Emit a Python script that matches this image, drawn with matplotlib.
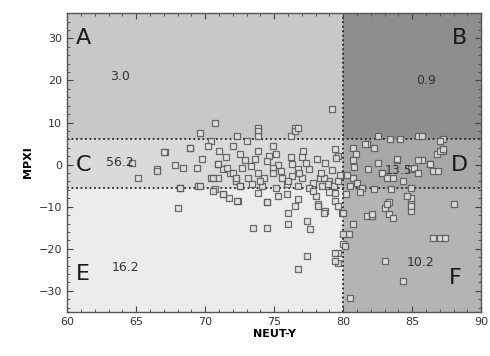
import matplotlib

matplotlib.use("Agg")
import matplotlib.pyplot as plt
from matplotlib.patches import Rectangle
from matplotlib.ticker import MultipleLocator

# quadrant bounds and shares (%)
x_split = 80.0
y_high = 6.2
y_low = -5.5
x_lim = (60, 90)
y_lim = (-35, 36)

region_labels = ["A", "B", "C", "D", "E", "F"]
region_shares = ["3.0", "0.9", "56.2", "13.5", "16.2", "10.2"]
region_colors = ["#c8c8c8", "#8e8e8e", "#dadada", "#a8a8a8", "#ececec", "#b4b4b4"]

# scatter points (NEUT-Y, MPXI)
neut_y = [
    79.2, 76.5, 76.2, 73.8, 82.5, 85.4, 87.2, 87.2, 86.8, 85.7,
    86.3, 83.9, 82.8, 69.6, 70.7, 70.4, 70.2, 68.9, 67.1, 69.8,
    69.4, 67.8, 68.4, 66.5, 65.1, 70.9, 71.3, 70.9, 70.4, 69.5,
    68.2, 70.7, 71.3, 68.0, 64.7, 73.8, 73.8, 76.5, 76.7, 72.0,
    73.0, 73.8, 72.9, 73.6, 74.6, 74.9, 75.1, 75.3, 74.9, 76.2,
    77.1, 77.0, 78.1, 76.3, 76.7, 77.5, 78.3, 72.7, 71.8, 72.2,
    73.1, 73.8, 74.3, 74.9, 75.6, 76.3, 77.0, 77.8, 72.5, 73.4,
    74.1, 75.1, 75.9, 76.7, 77.5, 78.5, 71.7, 72.4, 74.5, 75.9,
    76.7, 76.5, 78.0, 78.2, 75.3, 73.8, 72.3, 72.0, 72.2, 68.2,
    69.6, 70.6, 70.6, 71.3, 72.5, 73.5, 74.5, 76.0, 76.0, 77.4,
    77.6, 78.2, 78.7, 74.5, 77.4, 76.7, 79.6, 79.6, 80.0, 79.9,
    79.4, 80.0, 80.0, 80.7, 80.4, 80.1, 79.4, 79.4, 81.7, 82.1,
    83.0, 83.3, 83.3, 83.6, 84.9, 84.9, 84.9, 88.0, 86.5, 87.0,
    87.4, 83.0, 84.3, 80.5, 83.5, 84.9, 79.4, 79.6, 80.7, 80.9,
    80.7, 81.7, 82.2, 83.9, 84.9, 82.8, 83.2, 83.6, 80.7, 81.0,
    81.4, 82.2, 83.2, 84.6, 84.9, 82.1, 79.6, 78.6, 79.4, 79.0,
    78.6, 83.4, 84.1, 81.6, 85.1, 85.4, 86.3, 86.5, 87.0, 86.9,
    85.4, 84.3, 85.7, 87.0, 87.2, 78.9, 79.3, 79.6, 79.8, 79.2,
    78.7, 79.5, 78.4, 77.8, 79.0, 76.0, 75.5, 74.5, 73.3, 72.5,
    71.5, 71.0, 74.0, 76.8, 77.3, 80.3, 80.5, 80.2, 81.2, 81.8,
    82.5, 80.8, 67.0, 68.9, 66.5, 72.3, 71.6, 70.9,
]
mpxi = [
    13.3, 8.6, 6.9, 8.6, 6.9, 6.9, 6.2, 3.3, 2.6, 1.0,
    0.2, 1.0, -2.1, 7.4, 10.0, 5.7, 4.5, 4.0, 2.9, 1.4,
    -0.7, -0.2, -0.7, -1.0, -3.1, 0.2, -1.0, -3.1, -3.3, -5.0,
    -5.5, -5.7, -6.9, -10.2, 0.5, 8.1, 6.9, 8.1, 8.8, 4.5,
    5.7, 3.3, 1.0, 1.4, 2.1, 4.5, 2.6, -0.2, -0.7, 1.7,
    3.3, 1.7, 1.4, 0.2, -1.0, -1.0, -3.1, -0.7, -2.1, -3.8,
    -3.1, -1.9, -3.3, -2.1, -3.1, -2.6, -3.3, -4.3, -5.0, -4.5,
    -5.0, -5.5, -4.5, -5.0, -5.5, -5.0, -7.9, -8.6, -9.0, -6.9,
    -8.1, -9.8, -7.4, -9.3, -7.4, -6.7, -8.6, -2.1, -3.3, -5.5,
    -5.0, -3.1, -6.2, -6.9, -5.0, -15.0, -15.0, -14.0, -11.4, -13.3,
    -15.2, -9.8, -11.0, -9.0, -21.7, -24.8, -21.0, -23.3, -18.8, -11.4,
    -8.6, -16.4, -11.4, -14.0, -16.4, -19.3, -21.0, -22.9, -12.1, -12.1,
    -10.2, -9.0, -11.7, -12.6, -9.3, -7.9, -11.0, -9.3, -17.4, -17.4,
    -17.4, -22.9, -27.6, -31.7, -5.7, -5.5, 3.8, 2.1, 4.0, 2.6,
    1.0, 5.0, 4.0, 1.4, -1.0, -1.9, -3.1, -3.1, -3.1, -4.3,
    -5.5, -5.7, -9.3, -7.4, -9.8, -11.7, -9.8, -11.4, -6.7, -3.8,
    -3.3, 6.2, 6.2, 5.0, -0.7, 1.0, 0.2, -1.4, 3.3, -1.4,
    -2.1, -3.8, 6.9, 5.7, 3.8, -4.5, -5.2, -4.0, -2.5, -1.2,
    0.5, 1.5, -2.0, -6.2, -6.5, -3.8, -1.5, 0.8, -0.3, 2.5,
    1.8, 3.2, -4.0, -2.0, 0.3, -2.5, -5.0, -7.0, -6.5, -1.0,
    0.5, -0.5, 2.9, 4.0, -1.4, 6.9, -0.7, 0.2,
]


def main() -> None:
    fig = plt.figure(figsize=(4.9, 3.56), dpi=100)
    ax = fig.add_axes([0.137, 0.124, 0.845, 0.839])

    x0, x1 = x_lim
    y0, y1 = y_lim
    bounds = [
        (x0, y_high, x_split - x0, y1 - y_high),
        (x_split, y_high, x1 - x_split, y1 - y_high),
        (x0, y_low, x_split - x0, y_high - y_low),
        (x_split, y_low, x1 - x_split, y_high - y_low),
        (x0, y0, x_split - x0, y_low - y0),
        (x_split, y0, x1 - x_split, y_low - y0),
    ]
    for (bx, by, bw, bh), color in zip(bounds, region_colors):
        ax.add_patch(Rectangle((bx, by), bw, bh, facecolor=color, edgecolor="none", zorder=0))

    dots = (0, (1, 1.5))
    ax.axvline(x_split, color="#222222", linestyle=dots, linewidth=1.3, zorder=1)
    ax.axhline(y_high, color="#222222", linestyle=dots, linewidth=1.3, zorder=1)
    ax.axhline(y_low, color="#222222", linestyle=dots, linewidth=1.3, zorder=1)

    ax.scatter(neut_y, mpxi, marker="s", s=17, facecolors="#e2e2e2", edgecolors="#555555",
               linewidths=0.9, alpha=0.85, zorder=3)

    letter_pos = [(60.6, 30), (88.4, 30), (60.6, 0), (88.4, 0), (60.6, -26), (88.1, -27)]
    for (lx, ly), letter in zip(letter_pos, region_labels):
        ha = "left" if lx < 70 else "center"
        ax.text(lx, ly, letter, fontsize=16, ha=ha, va="center", color="#1a1a1a", zorder=4)

    share_pos = [(63.8, 21), (86.0, 20), (63.8, 0.5), (84.0, -1.5), (64.2, -24.5), (85.6, -23.3)]
    for (sx, sy), share in zip(share_pos, region_shares):
        ax.text(sx, sy, share, fontsize=9, ha="center", va="center", color="#333333", zorder=4)

    ax.set_xlim(x_lim)
    ax.set_ylim(y_lim)
    ax.xaxis.set_major_locator(MultipleLocator(5))
    ax.xaxis.set_minor_locator(MultipleLocator(1))
    ax.yaxis.set_major_locator(MultipleLocator(10))
    ax.yaxis.set_minor_locator(MultipleLocator(2))
    ax.tick_params(which="both", direction="in", top=True, right=True, colors="#444444",
                   labelcolor="#333333", labelsize=8)
    ax.tick_params(which="major", length=4)
    ax.tick_params(which="minor", length=2)
    for spine in ax.spines.values():
        spine.set_color("#555555")
        spine.set_linewidth(1.0)

    ax.set_xlabel("NEUT-Y", fontsize=8, fontweight="bold", labelpad=2)
    ax.set_ylabel("MPXI", fontsize=8, fontweight="bold", labelpad=4)

    fig.savefig("out.png", dpi=100)
    plt.close(fig)


if __name__ == "__main__":
    main()
